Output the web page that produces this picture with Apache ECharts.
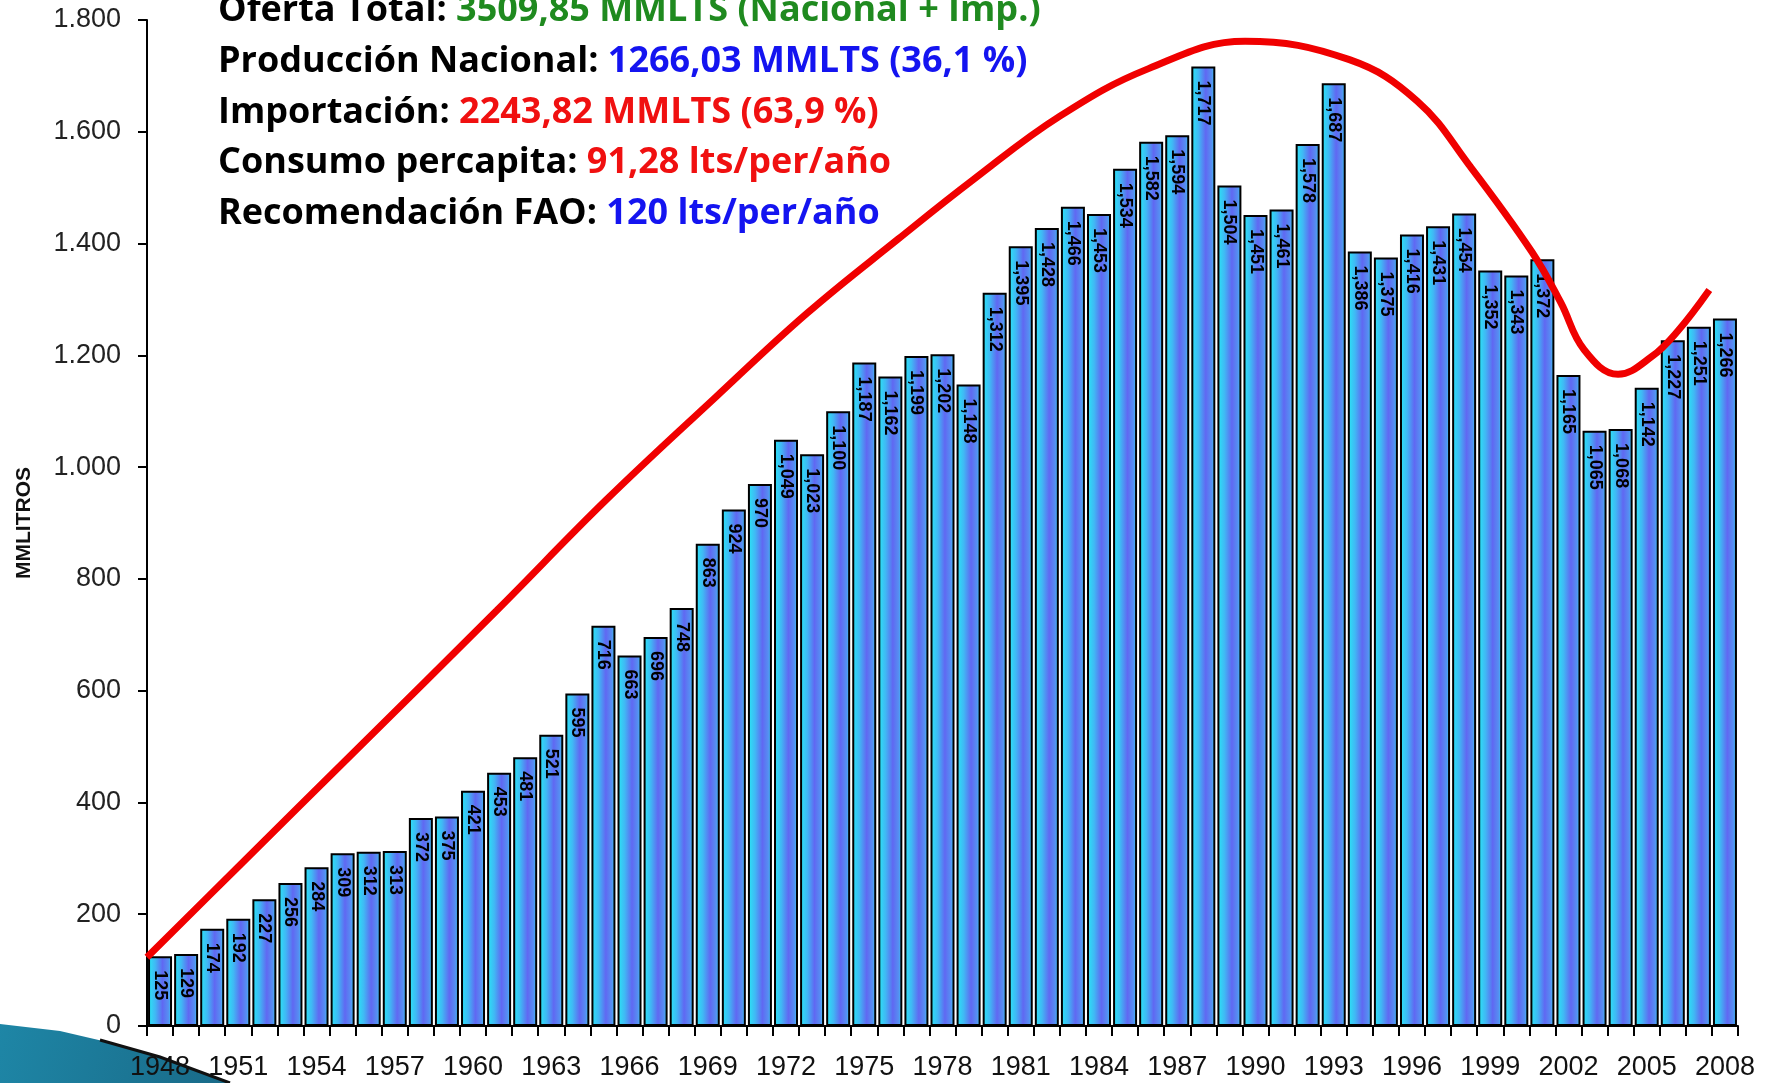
<!DOCTYPE html>
<html><head><meta charset="utf-8">
<script src="https://cdn.jsdelivr.net/npm/echarts@6/dist/echarts.min.js"></script>
<style>html,body{margin:0;padding:0;background:#fff}#c{width:1769px;height:1083px}</style>
</head><body><div id="c"></div>
<script>
const years = ['1948','1949','1950','1951','1952','1953','1954','1955','1956','1957',
  '1958','1959','1960','1961','1962','1963','1964','1965','1966','1967',
  '1968','1969','1970','1971','1972','1973','1974','1975','1976','1977',
  '1978','1979','1980','1981','1982','1983','1984','1985','1986','1987',
  '1988','1989','1990','1991','1992','1993','1994','1995','1996','1997',
  '1998','1999','2000','2001','2002','2003','2004','2005','2006','2007','2008'];
const production = [125,129,174,192,227,256,284,309,312,313,
  372,375,421,453,481,521,595,716,663,696,
  748,863,924,970,1049,1023,1100,1187,1162,1199,
  1202,1148,1312,1395,1428,1466,1453,1534,1582,1594,
  1717,1504,1451,1461,1578,1687,1386,1375,1416,1431,
  1454,1352,1343,1372,1165,1065,1068,1142,1227,1251,1266];
// hand-drawn trend curve (year position, value)
const trendYears  = [1947.5,1951,1955.5,1960.9,1965.1,1969.3,1972.8,1976.3,1979.2,1982.5,1985.9,1989.6,1993.6,1996.2,1998.2,2000.6,2001.7,2002.6,2003.9,2005.2,2006.2,2007.4];
const trendValues = [123,285,493,743,941,1125,1275,1408,1515,1628,1713,1762,1729,1655,1540,1385,1295,1210,1166,1198,1244,1317];
const infoLines = [
  ['Oferta Total: ', '3509,85 MMLTS (Nacional + Imp.)', 'g'],
  ['Producción Nacional: ', '1266,03 MMLTS (36,1 %)', 'b'],
  ['Importación: ', '2243,82 MMLTS (63,9 %)', 'r'],
  ['Consumo percapita: ', '91,28 lts/per/año', 'r'],
  ['Recomendación FAO: ', '120 lts/per/año', 'b']
];

const fmtAxis = v => v >= 1000 ? Math.floor(v/1000) + '.' + String(v % 1000).padStart(3,'0') : String(v);
const fmtBar = v => v >= 1000 ? Math.floor(v/1000) + ',' + String(v % 1000).padStart(3,'0') : String(v);

const chart = echarts.init(document.getElementById('c'), null, {renderer:'canvas'});
const FONT = 'Open Sans';
const FS = 36;
const infoGraphics = infoLines.map((l, i) => ({
  type: 'text', left: 218, top: -7 + i * 50.7, z: 10,
  style: {
    rich: {
      k: {fontFamily: FONT, fontWeight: 'bold', fontSize: FS, fill: '#000'},
      g: {fontFamily: FONT, fontWeight: 'bold', fontSize: FS, fill: '#1f8a1f'},
      b: {fontFamily: FONT, fontWeight: 'bold', fontSize: FS, fill: '#1414f0'},
      r: {fontFamily: FONT, fontWeight: 'bold', fontSize: FS, fill: '#f01010'}
    },
    text: '{k|' + l[0] + '}{' + l[2] + '|' + l[1] + '}'
  }
}));

chart.setOption({
  animation: false,
  backgroundColor: '#fff',
  grid: {left: 147, right: 31, top: 20, bottom: 57, containLabel: false},
  graphic: [
    {type: 'polygon', z: 0, shape: {points: [[0,1024],[60,1031],[120,1045],[180,1064],[230,1083],[0,1083]]},
      style: {fill: new echarts.graphic.LinearGradient(0,0,1,1,[{offset:0,color:'#1e86a6'},{offset:1,color:'#196a88'}])}},
    {type: 'polyline', z: 1, shape: {points: [[100,1040],[160,1057],[230,1083]]}, style: {stroke:'#111', lineWidth: 3, fill: null}}
  ].concat(infoGraphics),
  xAxis: [
    {type: 'category', data: years, boundaryGap: true,
      axisLine: {lineStyle: {color: '#000', width: 2}},
      axisTick: {show: true, interval: 0, length: 10, lineStyle: {color: '#000', width: 2}},
      axisLabel: {interval: 2, margin: 28, fontFamily: 'Liberation Sans', fontSize: 27, color: '#111'}},
    {type: 'value', min: 1947.5, max: 2008.5, show: false}
  ],
  yAxis: {type: 'value', min: 0, max: 1800, interval: 200,
    name: 'MMLITROS', nameLocation: 'middle', nameRotate: 90, nameGap: 112,
    nameTextStyle: {fontFamily: 'Liberation Sans', fontWeight: 'bold', fontSize: 21, color: '#111'},
    axisLine: {show: true, lineStyle: {color: '#000', width: 2}},
    axisTick: {show: true, length: 9, lineStyle: {color: '#000', width: 2}},
    splitLine: {show: false},
    axisLabel: {margin: 26, fontFamily: 'Liberation Sans', fontSize: 27, color: '#222', formatter: fmtAxis}},
  series: [
    {type: 'bar', data: production, barCategoryGap: '8%', z: 2,
      itemStyle: {
        borderColor: '#000', borderWidth: 2,
        color: new echarts.graphic.LinearGradient(0,0,1,0,[
          {offset:0,color:'#28e8f6'},{offset:0.3,color:'#40b8f4'},{offset:0.6,color:'#6068f2'},{offset:0.85,color:'#5590f2'},{offset:1,color:'#30d8f6'}])
      },
      label: {show: true, position: 'insideTop', rotate: -90, distance: 14, align: 'left', verticalAlign: 'middle',
        fontFamily: 'Liberation Sans', fontWeight: 'bold', fontSize: 18, color: '#000', formatter: p => fmtBar(p.value)}},
    {type: 'line', xAxisIndex: 1, yAxisIndex: 0, z: 5, smooth: 0.4, symbol: 'none',
      data: trendYears.map((y, i) => [y, trendValues[i]]),
      lineStyle: {color: '#f00000', width: 7}}
  ]
});
</script></body></html>
